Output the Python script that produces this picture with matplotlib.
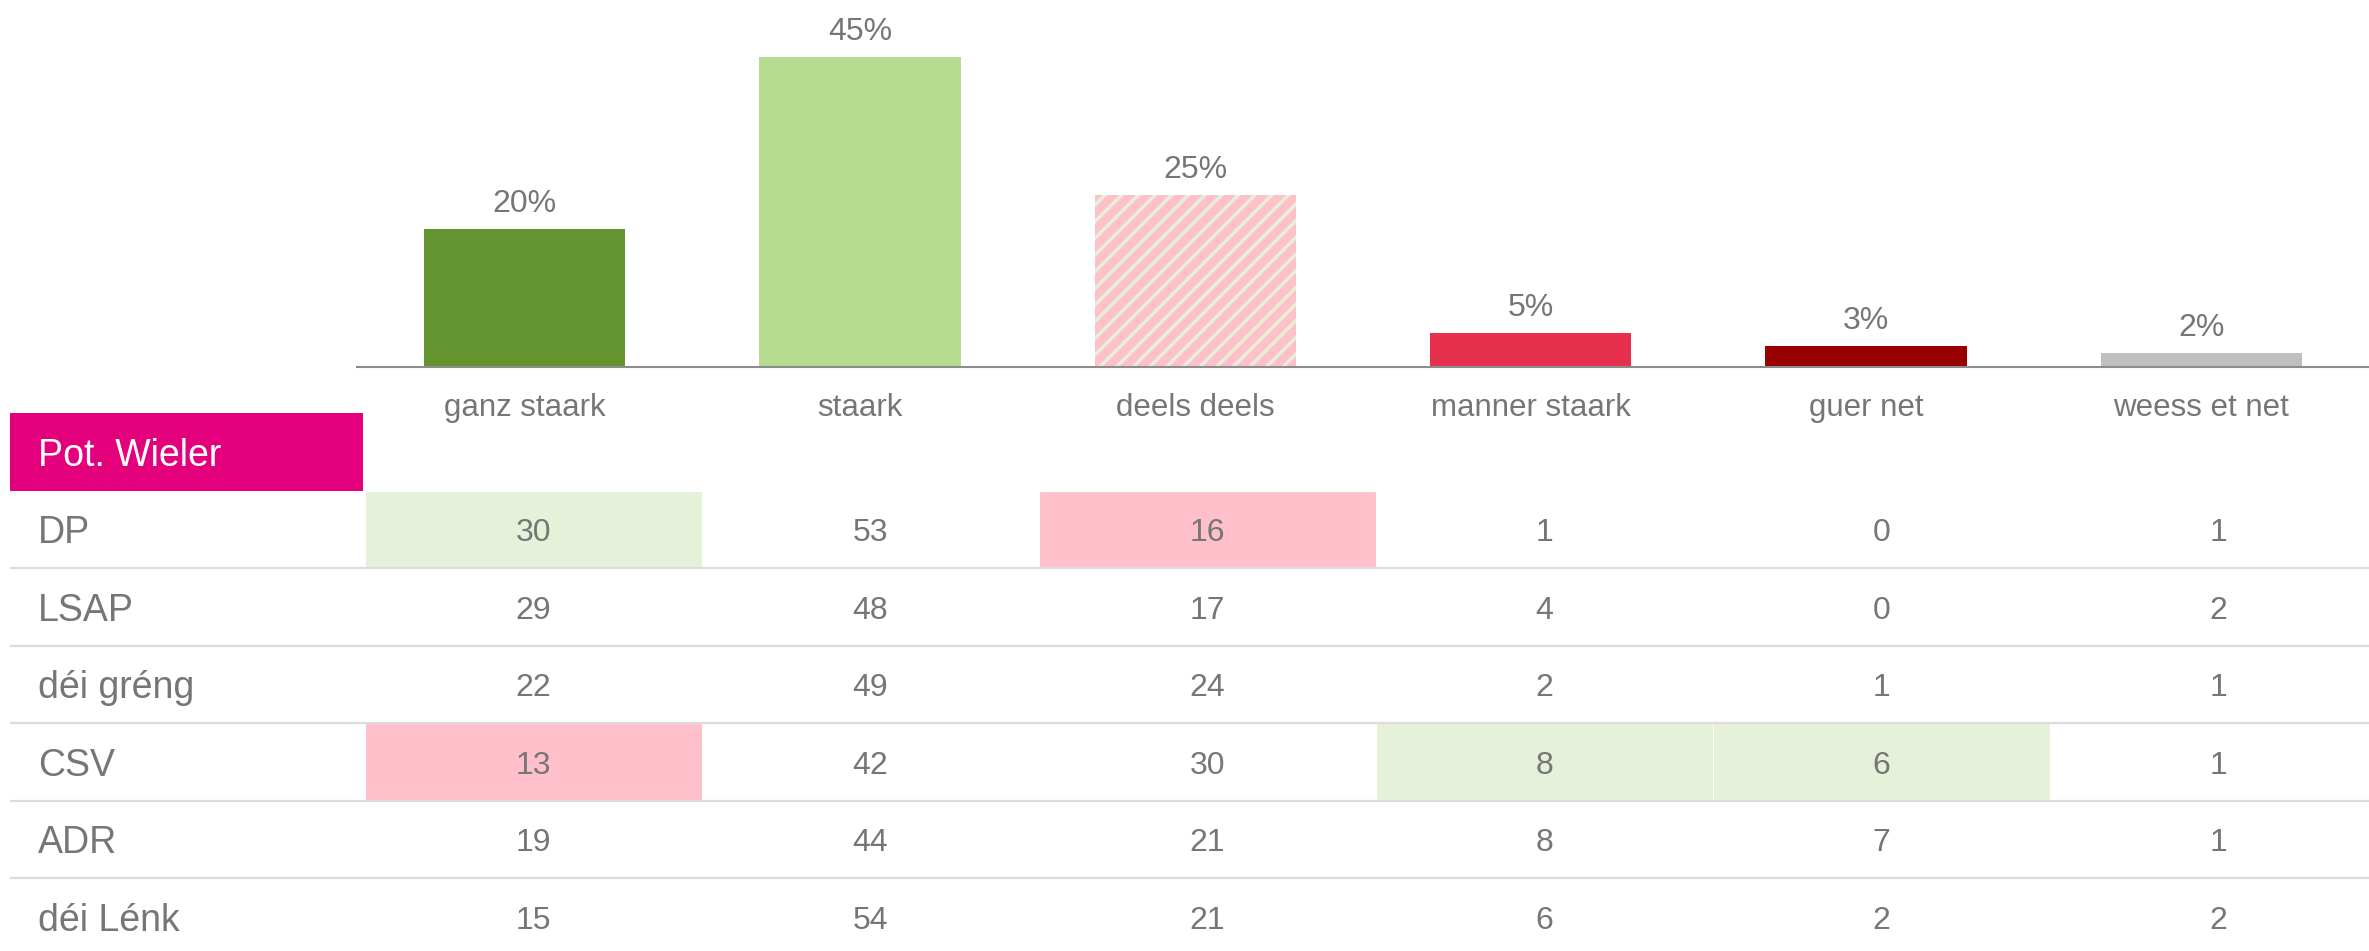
import numpy as np
import matplotlib.pyplot as plt
from matplotlib.patches import Rectangle

plt.rcParams['font.family'] = ['Liberation Sans', 'DejaVu Sans']
plt.rcParams['hatch.linewidth'] = 2.5

# Daten
kategorien = ['ganz staark', 'staark', 'deels deels', 'manner staark', 'guer net', 'weess et net']
total_prozent = [20, 45, 25, 5, 3, 2]
bar_faarwen = ['#639430', '#b5dc8f', '#ffc0cb', '#e6304e', '#990000', '#bfbfbf']

parteien = ['DP', 'LSAP', 'déi gréng', 'CSV', 'ADR', 'déi Lénk']
werter = [
    [30, 53, 16, 1, 0, 1],
    [29, 48, 17, 4, 0, 2],
    [22, 49, 24, 2, 1, 1],
    [13, 42, 30, 8, 6, 1],
    [19, 44, 21, 8, 7, 1],
    [15, 54, 21, 6, 2, 2],
]
# +1 = signifikant méi (gréng), -1 = signifikant manner (rosa)
markeierung = [
    [1, 0, -1, 0, 0, 0],
    [0, 0, 0, 0, 0, 0],
    [0, 0, 0, 0, 0, 0],
    [-1, 0, 0, 1, 1, 0],
    [0, 0, 0, 0, 0, 0],
    [0, 0, 0, 0, 0, 0],
]
header_titel = 'Pot. Wieler'

grau = '#767676'
magenta = '#e4007c'
hellgreng = '#e5f1d8'
rosa = '#ffc0cb'

W, H = 2369, 951
fig = plt.figure(figsize=(W / 100, H / 100), dpi=100)

# --- Balkendiagramm uewen ---
ax = fig.add_axes([357 / W, (H - 367) / H, (W - 357) / W, 367 / H])
x = np.arange(len(kategorien))
bars = ax.bar(x, total_prozent, width=0.6, color=bar_faarwen, linewidth=0)
# "deels deels" gestreift
bars[2].set_hatch('//')
bars[2].set_edgecolor('#e5f0d7')
bars[2].set_linewidth(0)

for i, v in enumerate(total_prozent):
    ax.annotate(f'{v}%', (i, v), xytext=(0, 18), textcoords='offset points',
                ha='center', va='center', fontsize=23, color=grau)

ax.set_xlim(-0.5, len(kategorien) - 0.5)
ax.set_ylim(0, 53.2)
ax.set_xticks(x, kategorien)
ax.set_yticks([])
ax.tick_params(axis='x', length=0, pad=19, labelsize=22.5, labelcolor=grau)
for s in ['top', 'left', 'right']:
    ax.spines[s].set_visible(False)
ax.spines['bottom'].set_color('#8c8c8c')
ax.spines['bottom'].set_linewidth(1.5)

# --- Tabell ënnen ---
col_px = 337
x0_px = 365
top_px = 413
row_px = 77.5
n_rows = len(parteien) + 1
ax_t = fig.add_axes([0, (H - (top_px + n_rows * row_px)) / H, 1, n_rows * row_px / H])
x_links = -(x0_px - 10) / col_px
ax_t.set_xlim(-x0_px / col_px, (W - x0_px) / col_px)
ax_t.set_ylim(len(parteien), -1)
ax_t.axis('off')

dy = 0.05  # Text e bësse méi déif, wéi am Original
ax_t.add_patch(Rectangle((x_links, -1), -x_links - 0.005, 1, facecolor=magenta, linewidth=0))
text_x = -(x0_px - 38) / col_px
ax_t.text(text_x, -0.5 + dy, header_titel, color='white', fontsize=27, va='center', ha='left')

for i, partei in enumerate(parteien):
    for j, wert in enumerate(werter[i]):
        m = markeierung[i][j]
        if m != 0:
            ax_t.add_patch(Rectangle((j, i), 1, 1, facecolor=hellgreng if m > 0 else rosa,
                                     edgecolor='white', linewidth=0.8))
        ax_t.text(j + 0.5, i + 0.5 + dy, str(wert), ha='center', va='center', fontsize=23, color=grau)
    ax_t.text(text_x, i + 0.5 + dy, partei, ha='left', va='center', fontsize=27, color=grau)
    ax_t.hlines(i + 1, x_links, (W - x0_px) / col_px, color='#dcdcdc', linewidth=1.6)

fig.savefig('out.png', dpi=100)
